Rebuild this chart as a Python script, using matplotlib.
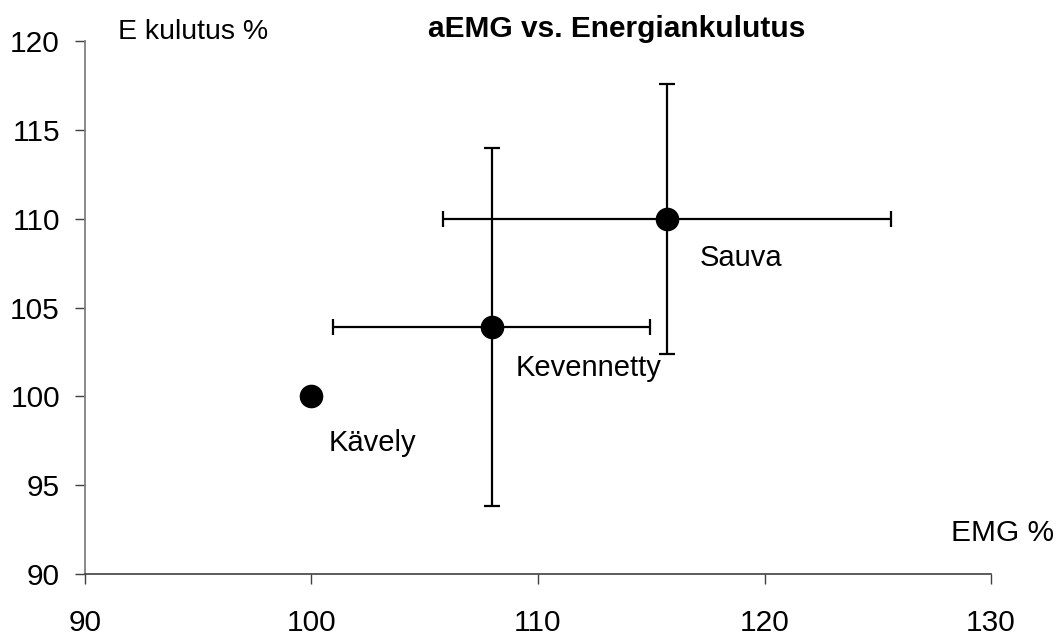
import matplotlib
matplotlib.use("Agg")
import matplotlib.pyplot as plt

plt.rcParams['font.family'] = ['Liberation Sans', 'DejaVu Sans']

# aEMG (%) vs. energy expenditure (%) for three walking styles
names = ["Kävely", "Kevennetty", "Sauva"]
emg = [100.0, 107.95, 115.7]
energy = [100.0, 103.9, 110.0]
emg_err = [0.0, 7.0, 9.9]
energy_err = [0.0, 10.1, 7.6]

x_ticks = [90, 100, 110, 120, 130]
y_ticks = [90, 95, 100, 105, 110, 115, 120]

# label offsets in data units (dx, dy) from each point
label_offsets = [(0.75, -2.6), (1.05, -2.3), (1.45, -2.2)]

fig = plt.figure(figsize=(10.58, 6.37), dpi=100)
ax = fig.add_axes([0.0803, 0.0989, 0.8564, 0.8367])

for i in range(len(names)):
    if emg_err[i] > 0 or energy_err[i] > 0:
        ax.errorbar(emg[i], energy[i], xerr=emg_err[i], yerr=energy_err[i],
                    fmt='none', ecolor='black', elinewidth=1.6,
                    capsize=5.5, capthick=1.6, zorder=2)
ax.plot(emg, energy, 'o', color='black', markersize=16, zorder=3, linestyle='none')

for n, x, y, (dx, dy) in zip(names, emg, energy, label_offsets):
    ax.text(x + dx, y + dy, n, fontsize=21, ha='left', va='center')

ax.set_xlim(90, 130)
ax.set_ylim(90, 120)
ax.set_xticks(x_ticks)
ax.set_yticks(y_ticks)
ax.tick_params(axis='both', labelsize=21.5, direction='out', length=7, width=1,
               color='#404040')
ax.tick_params(axis='x', pad=18)
ax.tick_params(axis='y', pad=11)

for s in ['top', 'right']:
    ax.spines[s].set_visible(False)
ax.spines['left'].set_color('#808080')
ax.spines['left'].set_linewidth(1.3)
ax.spines['bottom'].set_color('#404040')
ax.spines['bottom'].set_linewidth(1.2)

# axis titles sit at the ends of the axes, chart title on top
fig.text(118 / 1058, 1 - 32 / 637, "E kulutus %", fontsize=20.5, ha='left', va='center')
fig.text(617 / 1058, 1 - 29 / 637, "aEMG vs. Energiankulutus", fontsize=21.5,
         fontweight='bold', ha='center', va='center')
fig.text(1054 / 1058, 1 - 533 / 637, "EMG %", fontsize=21.5, ha='right', va='center')

fig.savefig("out.png", dpi=100)
